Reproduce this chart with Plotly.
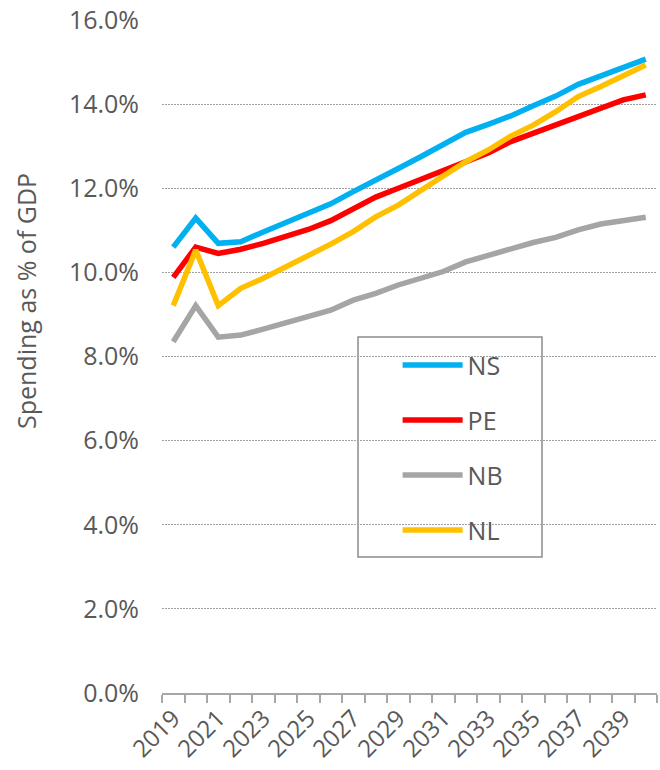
import plotly.graph_objects as go

# Projected spending as a share of GDP, by province
years = list(range(2019, 2041))

ns = [10.60, 11.29, 10.69, 10.73, 10.96, 11.19, 11.42, 11.63, 11.92, 12.18, 12.47,
      12.75, 13.03, 13.33, 13.52, 13.72, 13.96, 14.19, 14.47, 14.67, 14.88, 15.07]
pe = [9.88, 10.60, 10.45, 10.55, 10.69, 10.85, 11.02, 11.23, 11.52, 11.79, 12.00,
      12.21, 12.43, 12.65, 12.84, 13.11, 13.31, 13.51, 13.70, 13.90, 14.10, 14.22]
nb = [8.35, 9.21, 8.46, 8.51, 8.65, 8.80, 8.96, 9.10, 9.34, 9.50, 9.70,
      9.86, 10.02, 10.25, 10.41, 10.55, 10.71, 10.83, 11.01, 11.15, 11.22, 11.31]
nl = [9.21, 10.53, 9.21, 9.62, 9.86, 10.12, 10.39, 10.67, 10.97, 11.32, 11.60,
      11.96, 12.29, 12.63, 12.91, 13.24, 13.50, 13.82, 14.18, 14.42, 14.69, 14.93]

series_names = ["NS", "PE", "NB", "NL"]
series_values = [ns, pe, nb, nl]
series_colors = ["#00B0F0", "#FF0000", "#A5A5A5", "#FFC000"]

x_tick_labels = [str(y) for y in range(2019, 2041, 2)]
y_tick_values = list(range(0, 17, 2))

TEXT = "#595959"
FONT = "Open Sans"

fig = go.Figure()
for name, vals, color in zip(series_names, series_values, series_colors):
    fig.add_trace(go.Scatter(
        x=years, y=vals, name=name, mode="lines",
        legendgroup=name,
        line=dict(color=color, width=5.5),
    ))

fig.update_layout(
    width=660, height=770,
    margin=dict(l=162, r=3, t=20, b=77),
    paper_bgcolor="white", plot_bgcolor="white",
    font=dict(family=FONT, color=TEXT, size=25),
    showlegend=True,
    legend=dict(
        x=0.476, y=0.521, xanchor="left", yanchor="top",
        bgcolor="rgba(0,0,0,0)", borderwidth=0,
        font=dict(family=FONT, size=25, color=TEXT),
        itemwidth=60, tracegroupgap=19.5, traceorder="grouped",
    ),
    xaxis=dict(
        range=[2018.5, 2040.5],
        tickmode="array",
        tickvals=[int(t) for t in x_tick_labels],
        ticktext=x_tick_labels,
        tickangle=-45,
        tickfont=dict(size=24, color=TEXT),
        ticks="",
        showline=True, linecolor="#A6A6A6", linewidth=1.5,
        showgrid=False, zeroline=False,
        minor=dict(ticks="outside", ticklen=8, tickwidth=1.5,
                   tickcolor="#A6A6A6", tick0=2018.5, dtick=1, showgrid=False),
    ),
    yaxis=dict(
        range=[0, 16],
        tickmode="array",
        tickvals=y_tick_values,
        ticktext=[f"{v:.1f}%" for v in y_tick_values],
        tickfont=dict(size=25, color=TEXT),
        ticks="", ticklabelstandoff=22,
        showgrid=True, gridcolor="#A0A0A0", gridwidth=1.3,
        griddash="1.5px,1.5px",
        showline=False, zeroline=False,
    ),
    shapes=[dict(
        type="rect", xref="paper", yref="paper",
        x0=0.396, x1=0.7677, y0=0.2021, y1=0.529,
        line=dict(color="#8C8C8C", width=1.5),
        fillcolor="white", layer="between",
    )],
    annotations=[dict(
        text="Spending as % of GDP", textangle=-90,
        xref="paper", yref="paper", x=-0.2747, y=0.5825,
        xanchor="center", yanchor="middle", showarrow=False,
        font=dict(family=FONT, size=25, color=TEXT),
    )],
)

fig.write_html("out.html")
